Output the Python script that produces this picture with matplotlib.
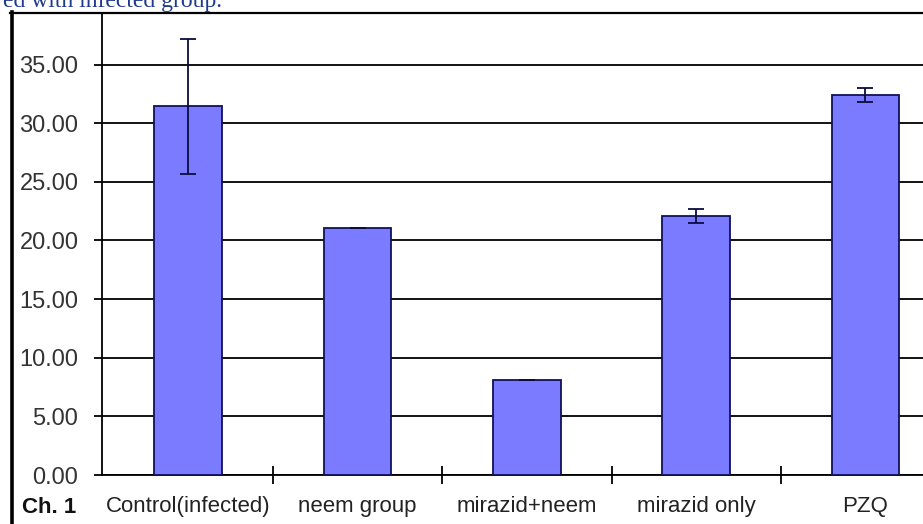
import matplotlib.pyplot as plt
from matplotlib.lines import Line2D
import numpy as np

# Données
groupes = ["Control(infected)", "neem group", "mirazid+neem", "mirazid only", "PZQ"]
valeurs = [31.45, 21.05, 8.1, 22.1, 32.4]
erreurs = [5.75, 0.0, 0.0, 0.6, 0.6]
graduations = [0, 5, 10, 15, 20, 25, 30, 35]

W, H = 923, 524
fig = plt.figure(figsize=(W / 100, H / 100), dpi=100)
fig.patch.set_facecolor("white")

# zone du graphique (coupée à droite comme dans la capture)
ax = fig.add_axes([102 / W, 49 / H, (W - 102) / W, (475 - 13) / H])
x = np.arange(len(groupes))
ax.set_axisbelow(True)
ax.yaxis.grid(True, color="black", linewidth=1.3)
ax.bar(x, valeurs, width=0.40, color="#7b7bff", edgecolor="#10105a", linewidth=1.3, zorder=3)
ax.errorbar(x, valeurs, yerr=erreurs, fmt="none", ecolor="#0c0c40", elinewidth=1.3,
            capsize=6, capthick=1.3, zorder=4)

ax.set_xlim(-0.51, 4.34)
ax.set_ylim(0, 39.4)
ax.set_yticks(graduations)
ax.set_yticklabels([f"{v:.2f}" for v in graduations], fontsize=17,
                   family="Liberation Sans", color="#333333")
ax.set_xticks(x)
ax.set_xticklabels(groupes, fontsize=16, family="Liberation Sans", color="#222222")
ax.set_xticks(x[:-1] + 0.5, minor=True)
ax.tick_params(axis="x", which="major", length=0, pad=15)
ax.tick_params(axis="x", which="minor", direction="inout", length=13, width=1.3)
ax.tick_params(axis="y", direction="out", length=6, width=1.3, pad=11)
for s in ["top", "right"]:
    ax.spines[s].set_visible(False)
for s in ["left", "bottom"]:
    ax.spines[s].set_linewidth(1.3)

# cadre extérieur et légende "Ch. 1"
fig.add_artist(Line2D([11.5 / W, 11.5 / W], [0, 1 - 12 / H], color="black", linewidth=2.6))
fig.add_artist(Line2D([10 / W, 1], [1 - 12.5 / H, 1 - 12.5 / H], color="black", linewidth=1.6))
fig.text(22 / W, 1 - 513 / H, "Ch. 1", fontsize=16, fontweight="bold",
         family="Liberation Sans", color="#111111", va="baseline")

# fin de la phrase au-dessus (coupée par le bord)
fig.text(3 / W, 1 - 7 / H, "ed with infected group.", fontsize=17, family="Liberation Serif",
         color="#1f3a8c", va="baseline")

fig.savefig("out.png", dpi=100, facecolor="white")
